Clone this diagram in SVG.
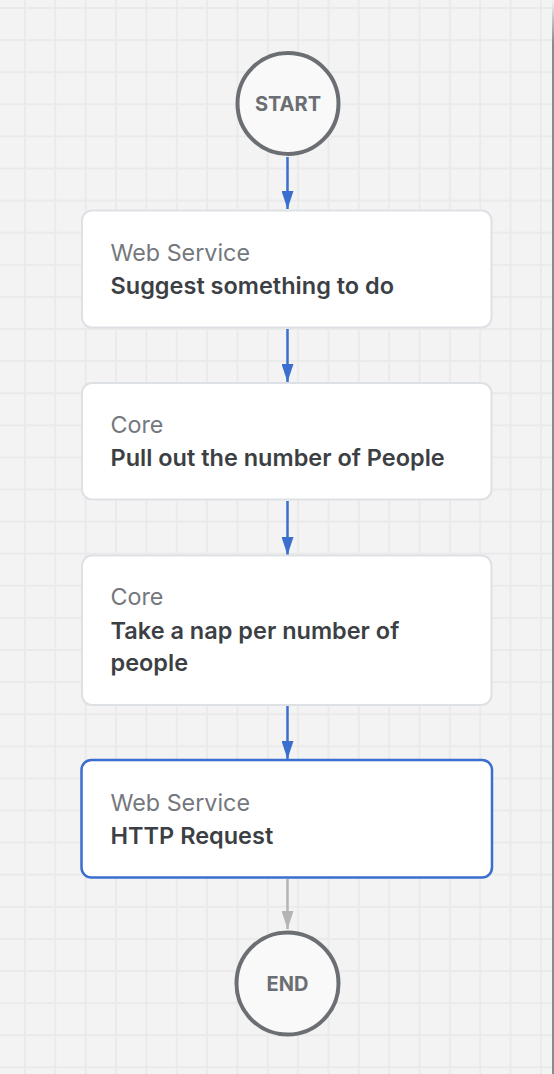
<svg xmlns="http://www.w3.org/2000/svg" width="554" height="1074" viewBox="0 0 554 1074">
<style>
.box{fill:#ffffff;stroke:#dde1e6;stroke-width:2}
.sel{fill:#ffffff;stroke:#3a6fd0;stroke-width:2.5}
.circ{fill:#f9f9f9;stroke:#6b6e72;stroke-width:4}
.kind{font-family:Inter,"Noto Sans",sans-serif;font-size:23.3px;fill:#74787d}
.name{font-family:Inter,"Noto Sans",sans-serif;font-size:23.5px;font-weight:600;fill:#3c3f44}
.term{font-family:Inter,"Noto Sans",sans-serif;font-size:20px;font-weight:700;fill:#6b6e72;text-anchor:middle}
.edge{stroke:#3a6fd0;stroke-width:2.5;fill:none}
.edge2{stroke:#b4b4b4;stroke-width:2.5;fill:none}
</style>
<defs>
<pattern id="grid" x="24" y="7" width="30.35" height="32.1" patternUnits="userSpaceOnUse">
<rect x="0" y="0" width="2" height="32.1" fill="#eaeaea"/>
<rect x="0" y="0" width="30.35" height="2" fill="#eaeaea"/>
</pattern>
<linearGradient id="bar" x1="0" y1="0" x2="0" y2="1">
<stop offset="0" stop-color="#f3f3f3"/>
<stop offset="0.04" stop-color="#8a8a8a"/>
<stop offset="1" stop-color="#8a8a8a"/>
</linearGradient>
<marker id="ab" markerWidth="18" markerHeight="12" refX="18" refY="6" orient="auto" markerUnits="userSpaceOnUse">
<path d="M0,0 L18,6 L0,12 Z" fill="#3a6fd0"/>
</marker>
<marker id="ag" markerWidth="18" markerHeight="12" refX="18" refY="6" orient="auto" markerUnits="userSpaceOnUse">
<path d="M0,0 L18,6 L0,12 Z" fill="#b4b4b4"/>
</marker>
</defs>
<rect x="0" y="0" width="554" height="1074" fill="#f3f3f3"/>
<rect x="0" y="0" width="552" height="1074" fill="url(#grid)"/>
<rect x="552" y="0" width="2" height="1074" fill="url(#bar)"/>

<g id="connectors">
<line class="edge" x1="287.5" y1="157" x2="287.5" y2="209" marker-end="url(#ab)"/>
<line class="edge" x1="287.5" y1="329" x2="287.5" y2="382" marker-end="url(#ab)"/>
<line class="edge" x1="287.5" y1="501" x2="287.5" y2="555" marker-end="url(#ab)"/>
<line class="edge" x1="287.5" y1="706" x2="287.5" y2="759" marker-end="url(#ab)"/>
<line class="edge2" x1="287.5" y1="879" x2="287.5" y2="929" marker-end="url(#ag)"/>
</g>

<g id="start">
<circle class="circ" cx="288" cy="103.5" r="50.5"/>
<text class="term" x="288" y="110.5">START</text>
</g>

<g id="node1">
<rect class="box" x="82" y="210.5" width="409.5" height="117" rx="10"/>
<text class="kind" x="110.5" y="261">Web Service</text>
<text class="name" x="110.5" y="293.5">Suggest something to do</text>
</g>

<g id="node2">
<rect class="box" x="82" y="383" width="409.5" height="116.5" rx="10"/>
<text class="kind" x="110.5" y="433">Core</text>
<text class="name" x="110.5" y="466">Pull out the number of People</text>
</g>

<g id="node3">
<rect class="box" x="82" y="555.5" width="409.5" height="149.5" rx="10"/>
<text class="kind" x="110.5" y="604.5">Core</text>
<text class="name" x="110.5" y="638.5">Take a nap per number of</text>
<text class="name" x="110.5" y="671">people</text>
</g>

<g id="node4">
<rect class="sel" x="81.5" y="760" width="410.5" height="117.5" rx="10"/>
<text class="kind" x="110.5" y="811">Web Service</text>
<text class="name" x="110.5" y="843.5">HTTP Request</text>
</g>

<g id="end">
<circle class="circ" cx="287.5" cy="983.5" r="51"/>
<text class="term" x="287.5" y="990.5">END</text>
</g>
</svg>
